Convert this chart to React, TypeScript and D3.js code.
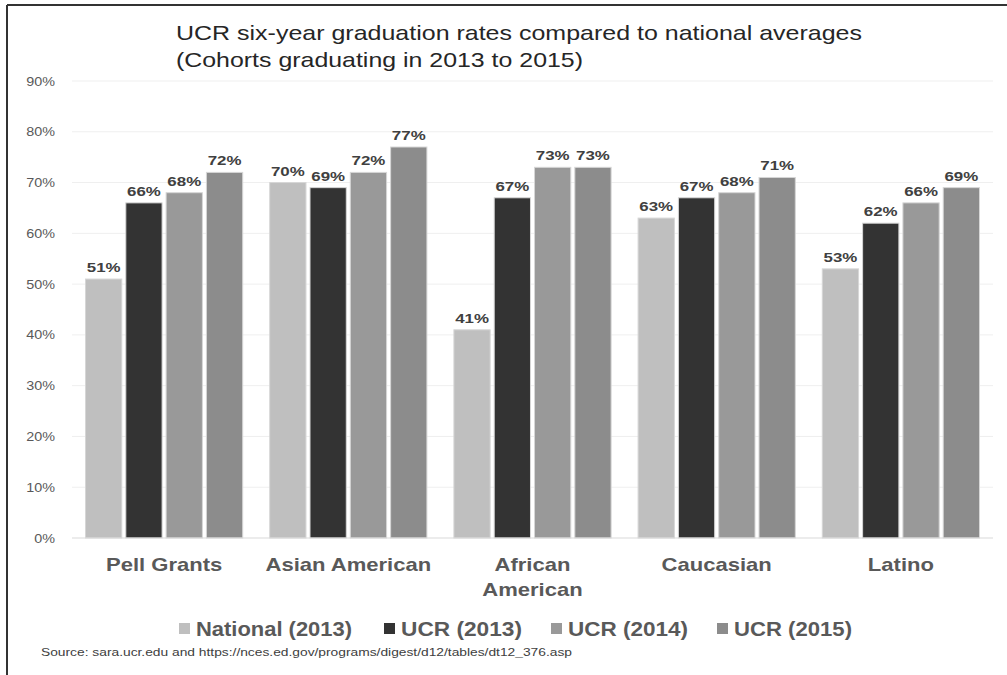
import React from "react";
import * as d3 from "d3";

const categories: string[][] = [["Pell Grants"], ["Asian American"], ["African", "American"], ["Caucasian"], ["Latino"]];
const seriesNames = ["National (2013)", "UCR (2013)", "UCR (2014)", "UCR (2015)"];
const seriesColors = ["#bfbfbf", "#333333", "#999999", "#8c8c8c"];
const national2013 = [51, 70, 41, 63, 53];
const ucr2013 = [66, 69, 67, 67, 62];
const ucr2014 = [68, 72, 73, 68, 66];
const ucr2015 = [72, 77, 73, 71, 69];
const yTicks = [0, 10, 20, 30, 40, 50, 60, 70, 80, 90];

const W = 1007;
const H = 675;
const FONT = "Liberation Sans, Arial, Helvetica, sans-serif";

function SText(props: {
  x: number;
  y: number;
  sx: number;
  anchor?: string;
  size: number;
  weight?: string;
  fill: string;
  children: React.ReactNode;
}) {
  return (
    <text
      transform={`translate(${props.x},${props.y}) scale(${props.sx},1)`}
      fontSize={props.size}
      fontWeight={props.weight || "normal"}
      fill={props.fill}
      textAnchor={props.anchor || "start"}
    >
      {props.children}
    </text>
  );
}

export default function App() {
  const series = [national2013, ucr2013, ucr2014, ucr2015];
  const left = 72, right = 993, top = 81, bottom = 538;
  const catKeys = categories.map((c) => c.join(" "));
  const x0 = d3.scaleBand<string>().domain(catKeys).range([left, right]).padding(0);
  const groupPad = 13.5;
  const x1 = d3
    .scaleBand<string>()
    .domain(seriesNames)
    .range([groupPad, x0.bandwidth() - groupPad])
    .paddingInner(0.1)
    .paddingOuter(0);
  const y = d3.scaleLinear().domain([0, 90]).range([bottom, top]);

  const legendSwatchX = [179, 384, 551, 717];
  const legendTextLen = [156, 121, 120, 118];

  return (
    <svg width={W} height={H} style={{ position: "absolute", left: 0, top: 0, background: "#fff" }} fontFamily={FONT}>
      <rect x={0} y={0} width={W} height={H} fill="#fff" />
      <line x1={7} y1={5} x2={W} y2={5} stroke="#333" strokeWidth={2} />
      <line x1={7} y1={5} x2={7} y2={H} stroke="#333" strokeWidth={2} />

      <text x={176} y={40} fontSize={21} fill="#262626" textLength={686} lengthAdjust="spacingAndGlyphs">
        UCR six-year graduation rates compared to national averages
      </text>
      <text x={176} y={67} fontSize={21} fill="#262626" textLength={407} lengthAdjust="spacingAndGlyphs">
        (Cohorts graduating in 2013 to 2015)
      </text>

      {yTicks.map((t) => (
        <g key={t}>
          {t > 0 && <line x1={left} x2={right} y1={y(t)} y2={y(t)} stroke="#efefef" strokeWidth={1} />}
          <SText x={55} y={y(t) + 4.5} sx={1.15} size={12.5} fill="#595959" anchor="end">
            {t}%
          </SText>
        </g>
      ))}

      {catKeys.map((ck, ci) => (
        <g key={ck} transform={`translate(${x0(ck)},0)`}>
          {series.map((vals, si) => {
            const bx = x1(seriesNames[si])!;
            const bw = x1.bandwidth();
            return (
              <g key={si}>
                <rect
                  x={bx}
                  y={y(vals[ci])}
                  width={bw}
                  height={bottom - y(vals[ci])}
                  fill={seriesColors[si]}
                  stroke="#d6d6d6"
                  strokeWidth={1}
                />
                <SText
                  x={bx + bw / 2}
                  y={y(vals[ci]) - 7}
                  sx={1.3}
                  size={13}
                  weight="bold"
                  fill="#404040"
                  anchor="middle"
                >
                  {vals[ci]}%
                </SText>
              </g>
            );
          })}
        </g>
      ))}

      <line x1={left} x2={right} y1={bottom} y2={bottom} stroke="#d9d9d9" strokeWidth={1} />

      {categories.map((lines, ci) =>
        lines.map((ln, li) => (
          <SText
            key={`${ci}-${li}`}
            x={x0(catKeys[ci])! + x0.bandwidth() / 2}
            y={571 + li * 25}
            sx={1.16}
            size={19}
            weight="bold"
            fill="#595959"
            anchor="middle"
          >
            {ln}
          </SText>
        ))
      )}

      {seriesNames.map((s, i) => (
        <g key={s}>
          <rect x={legendSwatchX[i]} y={623} width={11} height={11} fill={seriesColors[i]} />
          <text
            x={legendSwatchX[i] + 17}
            y={636}
            fontSize={20}
            fontWeight="bold"
            fill="#595959"
            textLength={legendTextLen[i]}
            lengthAdjust="spacingAndGlyphs"
          >
            {s}
          </text>
        </g>
      ))}

      <text x={41} y={656} fontSize={11} fill="#404040" textLength={531} lengthAdjust="spacingAndGlyphs">
        Source:  sara.ucr.edu  and https://nces.ed.gov/programs/digest/d12/tables/dt12_376.asp
      </text>
    </svg>
  );
}
